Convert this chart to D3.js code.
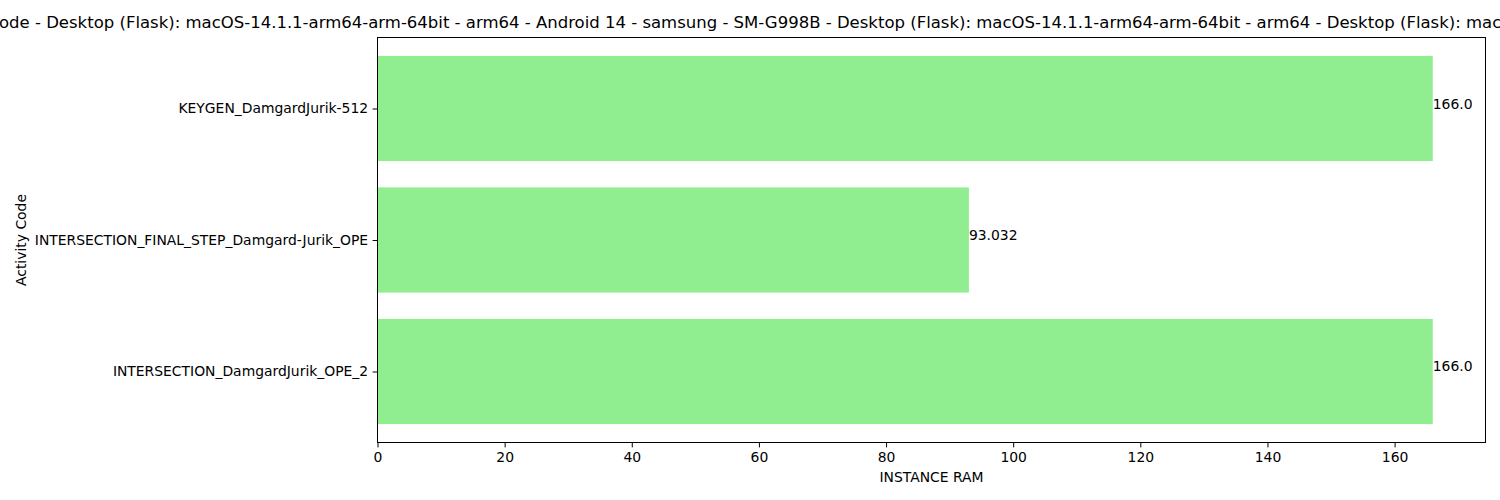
<!DOCTYPE html>
<html><head><meta charset="utf-8">
<script src="https://cdn.jsdelivr.net/npm/d3@7"></script>
<style>body{margin:0;background:#fff;} svg{display:block;font-family:"DejaVu Sans",sans-serif;}</style>
</head><body>
<svg id="c" width="1500" height="500"></svg>
<script>
const categories = ["INTERSECTION_DamgardJurik_OPE_2", "INTERSECTION_FINAL_STEP_Damgard-Jurik_OPE", "KEYGEN_DamgardJurik-512"];
const values = [166.0, 93.032, 166.0];
const valueLabels = ["166.0", "93.032", "166.0"];
const xTicks = [0, 20, 40, 60, 80, 100, 120, 140, 160];
const titlePrefix = "INSTANCE RAM by Activity C";
const titleVisible = "ode - Desktop (Flask): macOS-14.1.1-arm64-arm-64bit - arm64 - Android 14 - samsung - SM-G998B - Desktop (Flask): macOS-14.1.1-arm64-arm-64bit - arm64 - Desktop (Flask): mac";
const titleSuffix = "OS-14.1.1-arm64-arm-64bit - arm64";
const xLabel = "INSTANCE RAM";
const yLabel = "Activity Code";

const svg = d3.select("#c");
const L = 377.5, R = 1485.5, T = 37.5, B = 442.5;
const x = d3.scaleLinear().domain([0, d3.max(values) * 1.05]).range([L, R]);
const y = d3.scaleLinear().domain([-0.54, 2.54]).range([B, T]);
const bw = 0.8;

svg.selectAll("rect.bar").data(values).enter().append("rect")
  .attr("class", "bar")
  .attr("x", x(0))
  .attr("y", (d, i) => y(i + bw / 2))
  .attr("width", d => x(d) - x(0))
  .attr("height", (d, i) => y(i - bw / 2) - y(i + bw / 2))
  .attr("fill", "#90ee90");

svg.selectAll("text.val").data(values).enter().append("text")
  .attr("class", "val")
  .attr("x", d => x(d))
  .attr("y", (d, i) => y(i))
  .attr("font-size", "13.9px")
  .attr("fill", "#000")
  .text((d, i) => valueLabels[i]);

// axes
const xAxis = d3.axisBottom(x).tickValues(xTicks).tickFormat(d3.format("d")).tickSize(4.9).tickPadding(4.5);
const gx = svg.append("g").attr("transform", `translate(0,${B})`).call(xAxis);
gx.select(".domain").remove();
gx.selectAll("text").attr("font-size", "13.9px").attr("font-family", "DejaVu Sans").attr("fill", "#000");
gx.selectAll("line").attr("stroke", "#000").attr("stroke-width", 1);

const yAxis = d3.axisLeft(y).tickValues(d3.range(categories.length)).tickFormat(i => categories[i]).tickSize(4.9).tickPadding(4.5);
const gy = svg.append("g").attr("transform", `translate(${L},0)`).call(yAxis);
gy.select(".domain").remove();
gy.selectAll("text").attr("font-size", "13.9px").attr("font-family", "DejaVu Sans").attr("fill", "#000");
gy.selectAll("line").attr("stroke", "#000").attr("stroke-width", 1);

// frame
svg.append("rect").attr("x", L).attr("y", T).attr("width", R - L).attr("height", B - T)
  .attr("fill", "none").attr("stroke", "#000").attr("stroke-width", 1);

// labels
svg.append("text").attr("x", (L + R) / 2).attr("y", 482).attr("text-anchor", "middle")
  .attr("font-size", "13.9px").text(xLabel);
svg.append("text").attr("transform", `translate(25.5,${(T + B) / 2}) rotate(-90)`).attr("text-anchor", "middle")
  .attr("font-size", "13.9px").text(yLabel);

// title (clipped by canvas as in the reference)
const t = svg.append("text").attr("y", 28).attr("font-size", "16.5px");
const pre = t.append("tspan").text(titlePrefix);
t.append("tspan").text(titleVisible);
t.append("tspan").text(titleSuffix);
const pw = pre.node().getComputedTextLength();
t.attr("x", -1 - pw);
</script>
</body></html>
